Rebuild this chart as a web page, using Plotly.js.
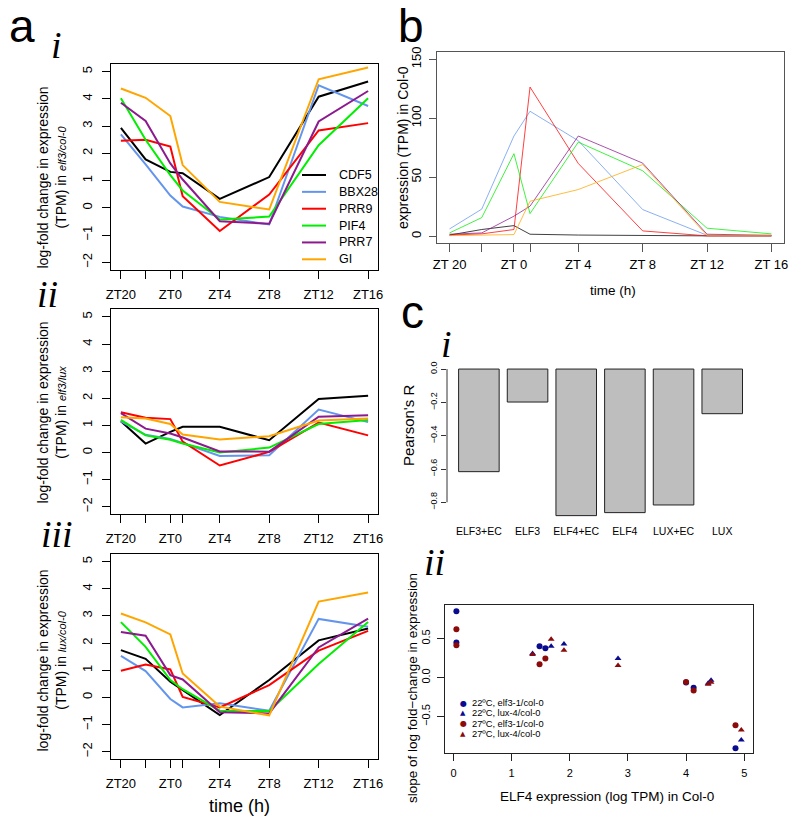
<!DOCTYPE html>
<html>
<head>
<meta charset="utf-8">
<script src="https://cdn.plot.ly/plotly-3.0.1.min.js"></script>
<style>
  body { margin: 0; background: #fff; }
  #chart { width: 800px; height: 825px; }
</style>
</head>
<body>
<div id="chart"></div>
<script>
// ========== Data ==========
// sampling times in hours relative to ZT0 (ZT20 = -4)
const timeHours = [-4, -2, 0, 1, 4, 8, 12, 16];
const timeLabels = ['ZT20', '', 'ZT0', '', 'ZT4', 'ZT8', 'ZT12', 'ZT16'];
const timeLabelsB = ['ZT 20', '', 'ZT 0', '', 'ZT 4', 'ZT 8', 'ZT 12', 'ZT 16'];

const genes = ['CDF5', 'BBX28', 'PRR9', 'PIF4', 'PRR7', 'GI'];
const geneColors = ['#000000', '#6495ED', '#FF0000', '#00EE00', '#8B1A8E', '#FFA500'];
const geneColorsB = ['rgba(0,0,0,0.75)', 'rgba(100,149,237,0.75)', 'rgba(255,0,0,0.75)',
                     'rgba(0,238,0,0.75)', 'rgba(139,26,142,0.75)', 'rgba(255,165,0,0.75)'];

// rows follow `genes`
const elf3ColFC = [
  [2.94, 1.78, 1.32, 1.27, 0.33, 1.13, 4.08, 4.64],
  [2.70, 1.60, 0.45, 0.05, -0.33, -0.61, 4.50, 3.74],
  [2.46, 2.50, 2.25, 0.43, -0.85, 0.49, 2.84, 3.11],
  [4.02, 2.50, 1.20, 0.64, -0.43, -0.32, 2.30, 4.02],
  [3.86, 3.19, 1.63, 1.04, -0.49, -0.58, 3.17, 4.29],
  [4.38, 4.04, 3.37, 1.57, 0.22, -0.06, 4.72, 5.15]
];
const elf3LuxFC = [
  [1.15, 0.33, 0.76, 0.95, 0.95, 0.45, 1.97, 2.09],
  [1.15, 0.65, 0.50, 0.35, -0.13, -0.10, 1.58, 1.12],
  [1.48, 1.28, 1.23, 0.40, -0.48, 0.02, 1.10, 0.63],
  [1.20, 0.63, 0.47, 0.33, 0.00, 0.18, 1.05, 1.20],
  [1.45, 0.88, 0.70, 0.55, 0.04, 0.03, 1.32, 1.37],
  [1.30, 1.25, 1.05, 0.66, 0.48, 0.60, 1.18, 1.25]
];
const luxColFC = [
  [1.74, 1.42, 0.58, 0.27, -0.65, 0.64, 2.10, 2.54],
  [1.53, 0.97, -0.06, -0.37, -0.22, -0.49, 2.89, 2.60],
  [0.98, 1.21, 1.03, 0.02, -0.37, 0.45, 1.72, 2.45],
  [2.77, 1.86, 0.64, 0.30, -0.49, -0.50, 1.23, 2.78],
  [2.41, 2.27, 0.82, 0.66, -0.55, -0.59, 1.84, 2.90],
  [3.09, 2.76, 2.32, 0.88, -0.34, -0.66, 3.53, 3.86]
];
const colTPM = [
  [1.0, 5.7, 9.0, 1.7, 1.0, 0.5, 0.3, 0.3],
  [6.2, 23.0, 85.0, 106.0, 81.0, 22.6, 0.8, 0.5],
  [1.0, 2.0, 5.7, 126.5, 61.7, 4.5, 0.3, 0.3],
  [2.8, 15.8, 70.0, 19.2, 79.8, 55.5, 6.8, 2.0],
  [1.7, 2.8, 17.0, 25.5, 85.0, 62.0, 1.7, 0.8],
  [0.5, 0.8, 1.4, 29.7, 39.6, 60.8, 0.5, 0.5]
];

const corrLabels = ['ELF3+EC', 'ELF3', 'ELF4+EC', 'ELF4', 'LUX+EC', 'LUX'];
const pearsonR = [-0.616, -0.198, -0.880, -0.862, -0.816, -0.268];

const elf4TpmElf3Genes = [0.05, 0.05, 1.48, 1.58, 4.00, 4.13, 4.85];
const elf4TpmLuxGenes = [1.36, 1.68, 1.90, 2.83, 4.38, 4.43, 4.95];
const slope22Elf3 = [0.85, 0.45, 0.40, 0.376, -0.064, -0.13, -0.906];
const slope22Lux = [0.31, 0.40, 0.43, 0.244, -0.073, -0.034, -0.80];
const slope27Elf3 = [0.62, 0.415, 0.17, 0.244, -0.056, -0.167, -0.61];
const slope27Lux = [0.295, 0.49, 0.35, 0.154, -0.085, -0.06, -0.67];
const slopeLegend = ['22ºC, elf3-1/col-0', '22ºC, lux-4/col-0', '27ºC, elf3-1/col-0', '27ºC, lux-4/col-0'];

// ========== Helpers ==========
const FONT = 'Liberation Sans, Arial, sans-serif';
const W = 800, H = 825;
const px = x => x / W;
const py = y => 1 - y / H;

function timeAxis(left, right, anchor, labels, color, standoff) {
  return {
    domain: [px(left), px(right)], anchor: anchor, range: [-4.8, 16.8],
    tickvals: timeHours, ticktext: labels,
    ticks: 'outside', ticklen: 8, tickcolor: color, tickwidth: 1,
    ticklabelstandoff: standoff,
    showline: true, mirror: true, linecolor: color, linewidth: 1,
    showgrid: false, zeroline: false,
    tickfont: { family: FONT, size: 13, color: '#000' }
  };
}

function fcYAxis(top, bottom, anchor) {
  return {
    domain: [py(bottom), py(top)], anchor: anchor, range: [-2.28, 5.28],
    tickvals: [-2, -1, 0, 1, 2, 3, 4, 5], tickangle: -90,
    ticks: 'outside', ticklen: 8, tickcolor: '#000', tickwidth: 1,
    ticklabelstandoff: 5,
    showline: true, mirror: true, linecolor: '#000', linewidth: 1,
    showgrid: false, zeroline: false,
    tickfont: { family: FONT, size: 13, color: '#000' }
  };
}

// ========== Traces ==========
const traces = [];
[[elf3ColFC, 'x', 'y'], [elf3LuxFC, 'x2', 'y2'], [luxColFC, 'x3', 'y3']].forEach(([rows, xa, ya]) => {
  rows.forEach((vals, i) => {
    traces.push({
      x: timeHours, y: vals, xaxis: xa, yaxis: ya,
      type: 'scatter', mode: 'lines', name: genes[i],
      line: { color: geneColors[i], width: 2 },
      showlegend: false
    });
  });
});

colTPM.forEach((vals, i) => {
  traces.push({
    x: timeHours, y: vals, xaxis: 'x4', yaxis: 'y4',
    type: 'scatter', mode: 'lines', name: genes[i],
    line: { color: geneColorsB[i], width: 1 },
    showlegend: false
  });
});

traces.push({
  x: corrLabels, y: pearsonR, xaxis: 'x5', yaxis: 'y5', type: 'bar',
  marker: { color: '#BEBEBE', line: { color: '#222', width: 1 } },
  showlegend: false
});

const slopeSeries = [
  [elf4TpmElf3Genes, slope22Elf3, '#0B0B8F', 'circle'],
  [elf4TpmLuxGenes, slope22Lux, '#0B0B8F', 'triangle-up'],
  [elf4TpmElf3Genes, slope27Elf3, '#8B0A0A', 'circle'],
  [elf4TpmLuxGenes, slope27Lux, '#8B0A0A', 'triangle-up']
];
slopeSeries.forEach(([xs, ys, col, sym], i) => {
  traces.push({
    x: xs, y: ys, xaxis: 'x6', yaxis: 'y6', type: 'scatter', mode: 'markers',
    name: slopeLegend[i],
    marker: { color: col, symbol: sym, size: 6 },
    showlegend: false
  });
});

// ========== Annotations ==========
const ann = [];
function label(text, x, y, size, opts) {
  ann.push(Object.assign({
    text: text, x: px(x), y: py(y), xref: 'paper', yref: 'paper',
    xanchor: 'center', yanchor: 'middle', showarrow: false,
    font: { family: FONT, size: size, color: '#000' }
  }, opts || {}));
}
const serif = { family: 'Liberation Serif, serif', size: 38, color: '#000' };

// panel letters
label('a', 22, 26, 46);
label('b', 411, 26, 46);
label('c', 412, 312, 46);
label('<i>i</i>', 57, 45, 38, { font: serif });
label('<i>ii</i>', 47, 294, 38, { font: serif });
label('<i>iii</i>', 57, 534, 38, { font: serif });
label('<i>i</i>', 446, 344, 38, { font: serif });
label('<i>ii</i>', 435, 562, 38, { font: serif });

// axis titles
const fcTitle = sub => 'log-fold change in expression<br>(TPM) in <i><span style="font-size:11px">' + sub + '</span></i>';
label(fcTitle('elf3/col-0'), 51.5, 178, 14, { textangle: -90 });
label(fcTitle('elf3/lux'), 51.5, 413, 14, { textangle: -90 });
label(fcTitle('lux/col-0'), 51.5, 661, 14, { textangle: -90 });
label('time (h)', 239, 806, 18);
label('time (h)', 613, 290, 13.5);
label('expression (TPM) in Col-0', 403, 148, 14, { textangle: -90 });
label("Pearson's R", 408, 426, 15, { textangle: -90 });
label('slope of log fold\u2212change in expression', 412, 688, 13.5, { textangle: -90 });
label('ELF4 expression (log TPM) in Col-0', 607, 796, 13.5);

// legend for panel a-i
const shapes = [];
genes.forEach((g, i) => {
  const yy = 175 + i * 16.86;
  shapes.push({
    type: 'line', xref: 'paper', yref: 'paper',
    x0: px(302), x1: px(326), y0: py(yy), y1: py(yy),
    line: { color: geneColors[i], width: 2 }
  });
  label(g, 337, yy, 12.5, { xanchor: 'left' });
});

// legend for panel c-ii
slopeSeries.forEach(([xs, ys, col, sym], i) => {
  const yy = 703 + i * 10.4;
  const sz = sym === 'circle' ? 8 : 7;
  label(sym === 'circle' ? '\u25CF' : '\u25B2', 463, yy, sz,
        { font: { family: 'DejaVu Sans', size: sz, color: col }, borderpad: 0 });
  label(slopeLegend[i], 471, yy, 9.3, { xanchor: 'left', borderpad: 0 });
});

// y axis line of the barplot spans only the tick range
shapes.push({
  type: 'line', xref: 'x5 domain', yref: 'y5', x0: 0, x1: 0, y0: 0, y1: -0.8,
  line: { color: '#333', width: 1 }
});

// ========== Layout ==========
const layout = {
  width: W, height: H,
  margin: { l: 0, r: 0, t: 0, b: 0 },
  paper_bgcolor: '#fff', plot_bgcolor: 'rgba(0,0,0,0)',
  showlegend: false, bargap: 0.1667,
  font: { family: FONT, color: '#000' },

  xaxis: timeAxis(111, 378, 'y', timeLabels, '#000', 4),
  yaxis: fcYAxis(64, 270, 'x'),
  xaxis2: timeAxis(111, 378, 'y2', timeLabels, '#000', 4),
  yaxis2: fcYAxis(309.3, 514.3, 'x2'),
  xaxis3: timeAxis(111, 378, 'y3', timeLabels, '#000', 4),
  yaxis3: fcYAxis(554, 759.3, 'x3'),

  xaxis4: timeAxis(436.7, 784.3, 'y4', timeLabelsB, '#555', 1),
  yaxis4: {
    domain: [py(243.3), py(52.3)], anchor: 'x4', range: [-6, 156],
    tickvals: [0, 50, 100, 150], tickangle: -90,
    ticks: 'outside', ticklen: 7, tickcolor: '#555', ticklabelstandoff: 3,
    showline: true, mirror: true, linecolor: '#555', linewidth: 1,
    showgrid: false, zeroline: false,
    tickfont: { family: FONT, size: 13, color: '#000' }
  },

  xaxis5: {
    domain: [px(447), px(754.6)], anchor: 'y5', type: 'category',
    range: [-0.655, 5.665], showline: false, ticks: '', showgrid: false, zeroline: false,
    ticklabelstandoff: 2,
    tickfont: { family: FONT, size: 10.5, color: '#000' }
  },
  yaxis5: {
    domain: [py(521.5), py(363.2)], anchor: 'x5', range: [-0.9152, 0.0352],
    tickvals: [0, -0.2, -0.4, -0.6, -0.8], tickformat: '.1f', tickangle: -90,
    ticks: 'outside', ticklen: 5, tickcolor: '#333',
    showline: false, showgrid: false, zeroline: false,
    tickfont: { family: FONT, size: 9, color: '#000' }
  },

  xaxis6: {
    domain: [px(445), px(752.7)], anchor: 'y6', range: [-0.146, 5.146],
    tickvals: [0, 1, 2, 3, 4, 5],
    ticks: 'outside', ticklen: 7, tickcolor: '#222', ticklabelstandoff: 2,
    showline: true, mirror: true, linecolor: '#222', linewidth: 1,
    showgrid: false, zeroline: false,
    tickfont: { family: FONT, size: 11, color: '#000' }
  },
  yaxis6: {
    domain: [py(753.3), py(605)], anchor: 'x6', range: [-0.97, 0.93],
    tickvals: [-0.5, 0, 0.5], tickformat: '.1f', tickangle: -90,
    ticks: 'outside', ticklen: 7, tickcolor: '#222', ticklabelstandoff: 3,
    showline: true, mirror: true, linecolor: '#222', linewidth: 1,
    showgrid: false, zeroline: false,
    tickfont: { family: FONT, size: 11, color: '#000' }
  },

  annotations: ann,
  shapes: shapes
};

Plotly.newPlot('chart', traces, layout, { displayModeBar: false, staticPlot: true });
</script>
</body>
</html>
